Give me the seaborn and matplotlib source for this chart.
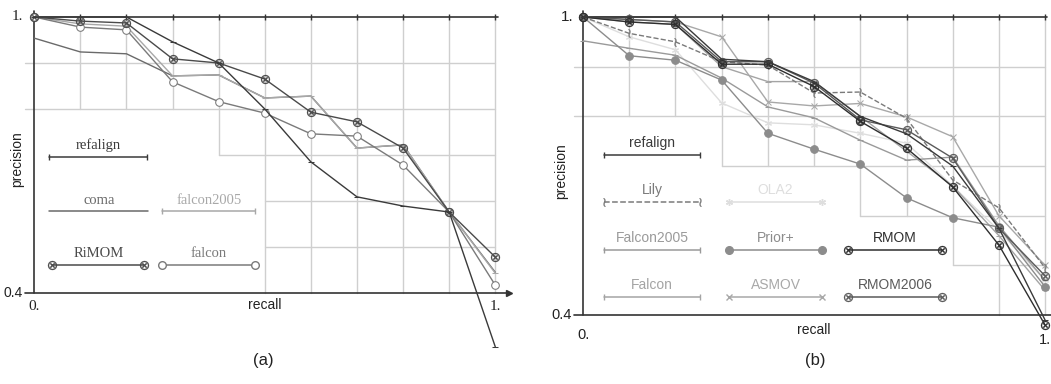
import numpy as np
import pandas as pd
import matplotlib
matplotlib.use('Agg')
import matplotlib.pyplot as plt
import seaborn as sns

# recall levels (11-point interpolated precision)
recall = [0.0, 0.1, 0.2, 0.3, 0.4, 0.5, 0.6, 0.7, 0.8, 0.9, 1.0]

# panel (a)
a_refalign = [1.0, 1.0, 1.0, 0.946, 0.90, 0.80, 0.685, 0.609, 0.589, 0.576, 0.283]
a_coma = [0.954, 0.924, 0.92, 0.872, 0.874, 0.824, 0.828, 0.715, 0.722, 0.576, 0.445]
a_falcon2005 = [1.0, 0.985, 0.98, 0.872, 0.874, 0.824, 0.828, 0.715, 0.722, 0.576, 0.443]
a_rimom = [1.0, 0.991, 0.987, 0.909, 0.90, 0.865, 0.793, 0.772, 0.715, 0.576, 0.478]
a_falcon = [1.0, 0.978, 0.972, 0.859, 0.816, 0.791, 0.746, 0.741, 0.678, 0.576, 0.417]

# panel (b)
b_refalign = [1.0, 1.0, 1.0, 0.915, 0.91, 0.87, 0.80, 0.765, 0.70, 0.575, 0.39]
b_lily = [1.0, 0.967, 0.95, 0.91, 0.903, 0.847, 0.849, 0.796, 0.672, 0.616, 0.495]
b_ola2 = [1.0, 0.96, 0.934, 0.827, 0.787, 0.783, 0.766, 0.746, 0.66, 0.57, 0.47]
b_falcon2005 = [0.952, 0.937, 0.923, 0.877, 0.819, 0.797, 0.752, 0.712, 0.718, 0.58, 0.47]
b_prior = [1.0, 0.922, 0.913, 0.873, 0.766, 0.734, 0.704, 0.636, 0.596, 0.577, 0.457]
b_rmom = [1.0, 0.99, 0.985, 0.905, 0.905, 0.86, 0.79, 0.736, 0.658, 0.541, 0.38]
b_falcon = [1.0, 0.99, 0.985, 0.90, 0.87, 0.87, 0.80, 0.73, 0.66, 0.56, 0.45]
b_asmov = [1.0, 0.995, 0.99, 0.96, 0.829, 0.821, 0.826, 0.799, 0.759, 0.60, 0.50]
b_rmom2006 = [1.0, 0.995, 0.99, 0.91, 0.91, 0.867, 0.793, 0.773, 0.716, 0.575, 0.479]

# staircase grid: lower end of vertical lines, left start of horizontal lines
grid_levels = [0.9, 0.8, 0.7, 0.6, 0.5]
a_vgrid_bottom = [0.8, 0.8, 0.8, 0.7, 0.4, 0.4, 0.4, 0.4, 0.4, 0.4]
a_hgrid_start = [-0.02, -0.02, 0.4, 0.5, 0.5]
b_vgrid_bottom = [0.8, 0.8, 0.7, 0.7, 0.7, 0.6, 0.6, 0.5, 0.4, 0.4]
b_hgrid_start = [-0.02, -0.02, 0.3, 0.6, 0.8]

OTIMES = r'$\otimes$'
ASTER = (6, 2, 0)

sns.set_theme(style='white')
plt.rcParams['font.family'] = ['Liberation Sans', 'DejaVu Sans']
plt.rcParams['mathtext.fontset'] = 'dejavusans'

fig = plt.figure(figsize=(10.51, 3.84), dpi=100)
ax_a = fig.add_axes([0.0019, 0.0813, 0.4869, 0.9104])
ax_b = fig.add_axes([0.524, 0.1016, 0.488, 0.893])

# style per series: (values, label, color, marker, marker size, open marker, linestyle)
series_a = [
    (a_coma, 'coma', '#6a6a6a', None, 0, False, '-'),
    (a_falcon2005, 'falcon2005', '#a8a8a8', '|', 5, False, '-'),
    (a_falcon, 'falcon', '#7a7a7a', 'o', 5.5, True, '-'),
    (a_rimom, 'RiMOM', '#4a4a4a', OTIMES, 6.5, False, '-'),
    (a_refalign, 'refalign', '#3a3a3a', '|', 5, False, '-'),
]
series_b = [
    (b_ola2, 'OLA2', '#dedede', ASTER, 5, False, '-'),
    (b_falcon, 'Falcon', '#a4a4a4', '|', 5, False, '-'),
    (b_asmov, 'ASMOV', '#a8a8a8', 'x', 4.5, False, '-'),
    (b_falcon2005, 'Falcon2005', '#9a9a9a', '|', 5, False, '-'),
    (b_prior, 'Prior+', '#8c8c8c', 'o', 5.5, False, '-'),
    (b_lily, 'Lily', '#7a7a7a', r'$\wr$', 6, False, '--'),
    (b_rmom2006, 'RMOM2006', '#5a5a5a', OTIMES, 6.5, False, '-'),
    (b_rmom, 'RMOM', '#2e2e2e', OTIMES, 6.5, False, '-'),
    (b_refalign, 'refalign', '#3a3a3a', '|', 5, False, '-'),
]


def marker_kw(marker, ms, color, open_m, on_curve):
    # tick markers lie flat on the curves, upright in the legend
    if marker == '|' and on_curve:
        marker = '_'
    kw = dict(marker=marker, markersize=ms, markeredgecolor=color,
              markerfacecolor='white' if open_m else color)
    if isinstance(marker, str) and marker.startswith('$'):
        kw['markeredgewidth'] = 0.2
    return kw


def draw_frame(ax, vbottom, hstart, ylow):
    gc = '#cfcfcf'
    for r, b in zip(recall[1:], vbottom):
        ax.plot([r, r], [b, 1.0], color=gc, lw=1, zorder=1)
    for p, s in zip(grid_levels, hstart):
        ax.plot([s, 1.0], [p, p], color=gc, lw=1, zorder=1)
    # top line with ticks
    ax.plot([0, 1.005], [1.0, 1.0], color='#333333', lw=1.2, zorder=2)
    ax.plot(recall[1:], [1.0] * 10, ls='none', marker='|', ms=5, color='#333333', zorder=2)
    # axes
    ax.plot([0, 0], [0.4, 1.012], color='#333333', lw=1.2, zorder=2)
    ax.plot([-0.02, 1.03], [0.4, 0.4], color='#333333', lw=1.2, zorder=2)
    ax.plot([1.03], [0.4], marker='>', ms=4, color='#333333', zorder=2)
    ax.set_xlim(-0.07, 1.04)
    ax.set_ylim(ylow, 1.03)
    ax.axis('off')


def draw_series(ax, series):
    for vals, label, color, marker, ms, open_m, ls in series:
        kw = dict(color=color, lw=1.0, linestyle=ls, ax=ax, zorder=3)
        if marker is not None:
            kw.update(marker_kw(marker, ms, color, open_m, True))
        sns.lineplot(x=recall, y=vals, **kw)


def legend_item(ax, x0, x1, y, label, color, marker, ms, open_m, ls, family, size):
    ax.plot([x0, x1], [y, y], color=color, lw=1.1, linestyle=ls, zorder=3)
    if marker is not None:
        ax.plot([x0, x1], [y, y], ls='none', color=color, zorder=3,
                **marker_kw(marker, ms, color, open_m, False))
    ax.text((x0 + x1) / 2, y + 0.01, label, ha='center', va='bottom', color=color,
            family=family, fontsize=size)


# ---- panel (a)
draw_frame(ax_a, a_vgrid_bottom, a_hgrid_start, 0.27)
draw_series(ax_a, series_a)
serif = ['Liberation Serif', 'DejaVu Serif']
sty_a = {s[1]: s for s in series_a}
legend_pos_a = {
    'refalign': (0.033, 0.245, 0.696),
    'coma': (0.033, 0.247, 0.578),
    'falcon2005': (0.278, 0.479, 0.578),
    'RiMOM': (0.039, 0.239, 0.461),
    'falcon': (0.278, 0.479, 0.461),
}
for name, (x0, x1, y) in legend_pos_a.items():
    _, lab, c, m, ms, om, ls = sty_a[name]
    legend_item(ax_a, x0, x1, y, lab, c, m, ms, om, ls, serif, 10.5)

ax_a.text(-0.025, 1.0, '1.', ha='right', va='center', family=serif, fontsize=11, color='#222222')
ax_a.text(-0.025, 0.4, '0.4', ha='right', va='center', fontsize=10, color='#222222')
ax_a.text(0.0, 0.385, '0.', ha='center', va='top', family=serif, fontsize=11, color='#222222')
ax_a.text(1.0, 0.385, '1.', ha='center', va='top', family=serif, fontsize=11, color='#222222')
ax_a.text(0.5, 0.39, 'recall', ha='center', va='top', fontsize=10, color='#222222')
ax_a.text(-0.037, 0.69, 'precision', ha='center', va='center', rotation=90, fontsize=10, color='#222222')

# ---- panel (b)
draw_frame(ax_b, b_vgrid_bottom, b_hgrid_start, 0.34)
draw_series(ax_b, series_b)
sty_b = {s[1]: s for s in series_b}
legend_pos_b = {
    'refalign': (0.045, 0.253, 0.722),
    'Lily': (0.045, 0.253, 0.628),
    'OLA2': (0.316, 0.517, 0.628),
    'Falcon2005': (0.045, 0.253, 0.531),
    'Prior+': (0.316, 0.517, 0.531),
    'RMOM': (0.574, 0.777, 0.531),
    'Falcon': (0.045, 0.253, 0.437),
    'ASMOV': (0.316, 0.517, 0.437),
    'RMOM2006': (0.574, 0.777, 0.437),
}
for name, (x0, x1, y) in legend_pos_b.items():
    _, lab, c, m, ms, om, ls = sty_b[name]
    legend_item(ax_b, x0, x1, y, lab, c, m, ms, om, ls, ['Liberation Sans', 'DejaVu Sans'], 10)

ax_b.text(-0.02, 1.0, '1.', ha='right', va='center', fontsize=11, color='#222222')
ax_b.text(-0.025, 0.4, '0.4', ha='right', va='center', fontsize=10.5, color='#222222')
ax_b.text(0.0, 0.375, '0.', ha='center', va='top', fontsize=10.5, color='#222222')
ax_b.text(1.0, 0.365, '1.', ha='center', va='top', fontsize=10.5, color='#222222')
ax_b.text(0.5, 0.385, 'recall', ha='center', va='top', fontsize=10, color='#222222')
ax_b.text(-0.048, 0.69, 'precision', ha='center', va='center', rotation=90, fontsize=10, color='#222222')

fig.text(263 / 1051, 1 - 360 / 384, '(a)', ha='center', va='center', fontsize=12, color='#222222')
fig.text(815 / 1051, 1 - 360 / 384, '(b)', ha='center', va='center', fontsize=12, color='#222222')

fig.savefig('out.png', dpi=100)
